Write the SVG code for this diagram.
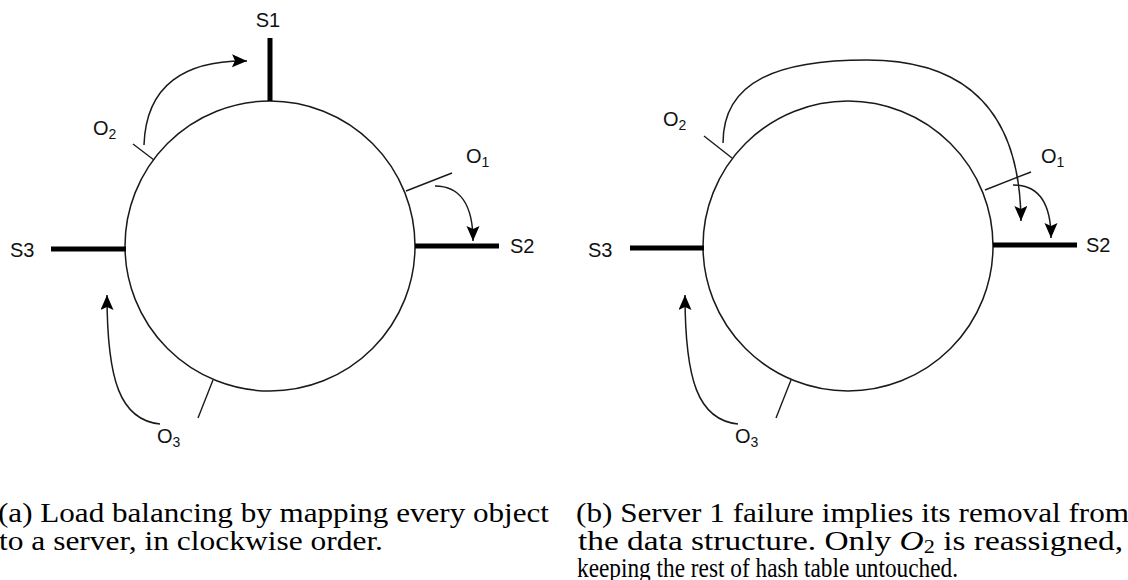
<svg xmlns="http://www.w3.org/2000/svg" width="1128" height="580" viewBox="0 0 1128 580">
  <style>
    .ring { fill: none; stroke: #1a1a1a; stroke-width: 1.5; }
    .server { stroke: #000; stroke-width: 5; stroke-linecap: butt; }
    .tick { stroke: #1a1a1a; stroke-width: 1.4; }
    .conn { fill: none; stroke: #1a1a1a; stroke-width: 1.5; }
    .lbl { font-family: "Liberation Sans", Arial, sans-serif; font-size: 20px; fill: #111; }
    .sub { font-size: 14px; }
    .cap { font-family: "Liberation Serif", "Times New Roman", serif; font-size: 27px; fill: #000; }
  </style>
  <defs>
    <marker id="head" markerUnits="userSpaceOnUse" markerWidth="16" markerHeight="14" refX="15" refY="6.5" orient="auto">
      <path d="M0,0 L15,6.5 L0,13 L3,6.5 z" fill="#000"/>
    </marker>
  </defs>

  <rect width="1128" height="580" fill="#fff"/>

  <!-- (a) ring with three servers and three objects -->
  <g id="ring-a"><circle class="ring" cx="270" cy="246" r="145"/></g>
  <g id="s1-a"><line class="server" x1="270" y1="38" x2="270" y2="101"/><text class="lbl" x="268" y="27" text-anchor="middle">S1</text></g>
  <g id="s2-a"><line class="server" x1="415" y1="246" x2="499" y2="246"/><text class="lbl" x="510" y="253">S2</text></g>
  <g id="s3-a"><line class="server" x1="51" y1="249" x2="126" y2="249"/><text class="lbl" x="10" y="257">S3</text></g>
  <g id="o1-a"><line class="tick" x1="406" y1="191" x2="452" y2="173"/><text class="lbl" x="466" y="163">O<tspan class="sub" dy="4">1</tspan></text></g>
  <g id="o2-a"><line class="tick" x1="133" y1="144" x2="154" y2="160"/><text class="lbl" x="93" y="135">O<tspan class="sub" dy="4">2</tspan></text></g>
  <g id="o3-a"><line class="tick" x1="213" y1="380" x2="198" y2="418"/><text class="lbl" x="157" y="443">O<tspan class="sub" dy="4">3</tspan></text></g>

  <!-- (b) ring after S1 is removed -->
  <g id="ring-b"><circle class="ring" cx="848" cy="246" r="145"/></g>
  <g id="s2-b"><line class="server" x1="993" y1="245" x2="1077" y2="245"/><text class="lbl" x="1086" y="252">S2</text></g>
  <g id="s3-b"><line class="server" x1="630" y1="248" x2="704" y2="248"/><text class="lbl" x="588" y="257">S3</text></g>
  <g id="o1-b"><line class="tick" x1="985" y1="190" x2="1031" y2="172"/><text class="lbl" x="1041" y="163">O<tspan class="sub" dy="4">1</tspan></text></g>
  <g id="o2-b"><line class="tick" x1="704" y1="136" x2="732" y2="158"/><text class="lbl" x="663" y="126">O<tspan class="sub" dy="4">2</tspan></text></g>
  <g id="o3-b"><line class="tick" x1="791" y1="380" x2="776" y2="418"/><text class="lbl" x="735" y="443">O<tspan class="sub" dy="4">3</tspan></text></g>

  <!-- assignment arrows -->
  <g id="connectors">
    <path class="conn" marker-end="url(#head)" d="M144,145 C146,85 185,60 247,61"/>
    <path class="conn" marker-end="url(#head)" d="M435,186 C460,186 473,205 473,241"/>
    <path class="conn" marker-end="url(#head)" d="M160,424 C120,420 107,380 107,295"/>
    <path class="conn" marker-end="url(#head)" d="M723,143 C723,80 780,60 867,60 C960,60 1020,105 1021,221"/>
    <path class="conn" marker-end="url(#head)" d="M1013,185 C1038,185 1051,202 1051,238"/>
    <path class="conn" marker-end="url(#head)" d="M738,424 C698,420 685,380 685,295"/>
  </g>

  <!-- captions -->
  <g id="captions">
    <text class="cap" x="-2" y="522" textLength="551" lengthAdjust="spacingAndGlyphs">(a) Load balancing by mapping every object</text>
    <text class="cap" x="-1" y="550" textLength="384" lengthAdjust="spacingAndGlyphs">to a server, in clockwise order.</text>
    <text class="cap" x="576" y="522" textLength="553" lengthAdjust="spacingAndGlyphs">(b) Server 1 failure implies its removal from</text>
    <text class="cap" x="578" y="550" textLength="545" lengthAdjust="spacingAndGlyphs">the data structure.  Only <tspan font-style="italic">O</tspan><tspan font-size="18" dy="3">2</tspan><tspan dy="-3"> is reassigned,</tspan></text>
    <text class="cap" x="577" y="577" textLength="381" lengthAdjust="spacingAndGlyphs">keeping the rest of hash table untouched.</text>
  </g>
</svg>
